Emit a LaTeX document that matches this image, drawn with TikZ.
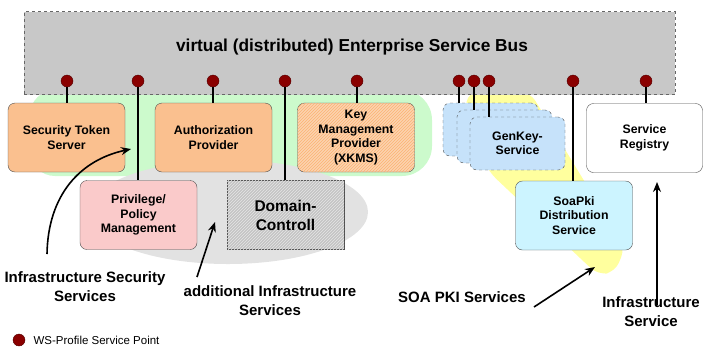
\documentclass[tikz,border=0pt]{standalone}
\usepackage{fontspec}
\setmainfont{Liberation Sans}
\usetikzlibrary{patterns,arrows.meta}
\definecolor{busgray}{HTML}{C8C8C8}
\definecolor{spred}{HTML}{8A0000}
\definecolor{peach}{HTML}{FAC08F}
\definecolor{lightpeach}{HTML}{FBD3B0}
\definecolor{rosa}{HTML}{FACACA}
\definecolor{dcgray}{HTML}{C4C4C4}
\definecolor{skyblue}{HTML}{C6E2FA}
\definecolor{cyanish}{HTML}{CCF4FF}
\definecolor{blobgreen}{HTML}{CCFACC}
\definecolor{blobgray}{HTML}{E2E2E2}
\definecolor{blobyellow}{HTML}{FFFF9E}
\begin{document}
\begin{tikzpicture}[x=1pt,y=-1pt,
	box/.style={draw=black!70,rounded corners=7pt,minimum width=117pt,minimum height=69pt,align=center,inner sep=2pt,font=\fontsize{12.3}{14.5}\selectfont\bfseries},
	genbox/.style={box,dashed,fill=skyblue,minimum width=95pt,minimum height=53pt},
	sp/.style={circle,fill=spred,draw=spred!60!black,inner sep=0pt,minimum size=12pt},
	link/.style={line width=1.6pt},
	lbl/.style={align=center,font=\fontsize{15}{19}\selectfont\bfseries},
	pointer/.style={line width=1.6pt,-{Stealth[length=10pt,width=8pt]}}]
	\useasboundingbox (0,0) rectangle (703,349);
	% background groups
	\fill[blobgreen,rounded corners=25pt] (30,90) rectangle (300,176);
	\fill[blobgreen,rounded corners=30pt] (250,90) rectangle (432,176);
	\fill[blobgray] (228,212) ellipse (140 and 52);
	\fill[blobyellow,rounded corners=10pt] (468,92) -- (530,92) -- (625,248) -- (615,272) -- (598,275) -- (580,258) -- (489,172) -- (464,120) -- cycle;
	% bus
	\node[draw=black!60,dashed,fill=busgray,minimum width=651pt,minimum height=83pt] (esb) at (349.5,53) {};
	\node[font=\fontsize{17.3}{20}\selectfont\bfseries] (esblabel) at (352,47) {virtual (distributed) Enterprise Service Bus};
	% services
	\node[box,fill=peach] (sts) at (66.5,137.5) {Security Token\\Server};
	\node[box,fill=peach] (auth) at (213.5,137.5) {Authorization\\Provider};
	\node[box,fill=lightpeach,postaction={pattern=north east lines,pattern color=peach!80!orange}] (kmp) at (356,137.5) {Key\\Management\\Provider\\(XKMS)};
	\node[box,fill=rosa] (priv) at (138.5,215) {Privilege/\\Policy\\Management};
	\node[box,rounded corners=0pt,fill=dcgray,postaction={pattern=north east lines,pattern color=white!80!gray},font=\fontsize{15.5}{19}\selectfont\bfseries] (dc) at (285.5,215) {Domain-\\Controll};
	\node[genbox] (gk1) at (490.5,129.5) {};
	\node[genbox] (gk2) at (504.5,136.5) {};
	\node[genbox] (gk3) at (517.5,143.5) {GenKey-\\Service};
	\node[box,fill=cyanish] (soapki) at (574,215.5) {SoaPki\\Distribution\\Service};
	\node[box,fill=white,minimum width=116pt] (reg) at (644.5,138) {Service\\Registry};
	% service points
	\foreach \n/\x in {p1/67,p2/138,p3/213,p4/285,p5/357,p6/459,p7/474,p8/489,p9/573,p10/646}
		\node[sp] (\n) at (\x,81) {};
	\draw[link] (p1) -- (p1 |- sts.north);
	\draw[link] (p2) -- (p2 |- priv.north);
	\draw[link] (p3) -- (p3 |- auth.north);
	\draw[link] (p4) -- (p4 |- dc.north);
	\draw[link] (p5) -- (p5 |- kmp.north);
	\draw[link] (p6) -- (p6 |- gk1.north);
	\draw[link] (p7) -- (p7 |- gk2.north);
	\draw[link] (p8) -- (p8 |- gk3.north);
	\draw[link] (p9) -- (p9 |- soapki.north);
	\draw[link] (p10) -- (p10 |- reg.north);
	% group labels
	\node[lbl] (issl) at (85,286.5) {Infrastructure Security\\Services};
	\node[lbl] (aisl) at (270,301) {additional Infrastructure\\Services};
	\node[lbl] (pkil) at (462,297) {SOA PKI Services};
	\node[lbl] (isl) at (651,311.5) {Infrastructure\\Service};
	\coordinate (iss) at (47,254);
	\coordinate (isstip) at (131,149);
	\coordinate (ais) at (197,277);
	\coordinate (aistip) at (215,222);
	\coordinate (pki) at (534,307);
	\coordinate (pkitip) at (595,267);
	\coordinate (is) at (657,305);
	\coordinate (istip) at (657,182);
	\draw[pointer] (iss) .. controls (48,195) and (80,160) .. (isstip);
	\draw[pointer] (ais) -- (aistip);
	\draw[pointer] (pki) -- (pkitip);
	\draw[pointer] (is) -- (istip);
	% legend
	\node[sp] (legdot) at (19,340) {};
	\node[anchor=west,font=\fontsize{11.5}{13}\selectfont] (legtext) at (30,340) {WS-Profile Service Point};
\end{tikzpicture}
\end{document}
